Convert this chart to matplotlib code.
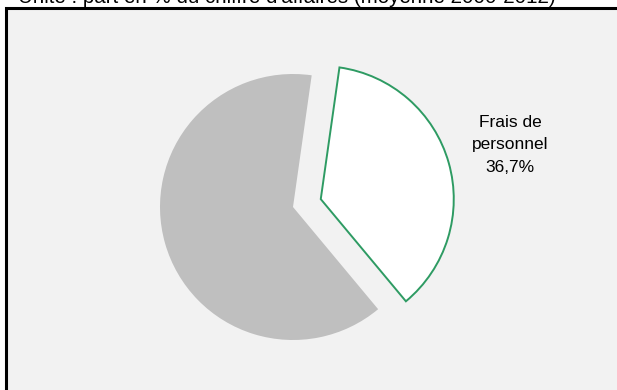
import matplotlib.pyplot as plt
from matplotlib.patches import Rectangle

plt.rcParams['font.family'] = ['Liberation Sans', 'DejaVu Sans']

# données
labels = ['Frais de\npersonnel', 'Autres']
parts = [36.7, 63.3]
couleurs = ['white', '#BFBFBF']
titre = "Unité : part en % du chiffre d'affaires (moyenne 2000-2012)"

W, H = 617, 390
fig = plt.figure(figsize=(W / 100, H / 100), dpi=100)
ax = fig.add_axes([0, 0, 1, 1])

# cadre gris
ax.add_patch(Rectangle((6, -20), 700, H - 8 + 20, facecolor='#F2F2F2',
                       edgecolor='black', linewidth=2.2, zorder=0))

# titre (coupé en haut de l'image, comme dans l'original)
ax.text(18, 387, titre, fontsize=14.8, ha='left', va='baseline', color='black')

# l'explode de pie est en unités de données, pas en fraction du rayon
rayon = 133
wedges, _ = ax.pie(parts, colors=couleurs, startangle=-50.2, counterclock=True,
                   explode=[0.217 * rayon, 0], center=(293, H - 207), radius=rayon,
                   wedgeprops=dict(linewidth=0), frame=True)
wedges[0].set_edgecolor('#2E9B63')
wedges[0].set_linewidth(1.4)
ax.set_xlim(0, W)
ax.set_ylim(0, H)
ax.set_aspect('equal')
ax.axis('off')

ax.text(510, H - 145, f"{labels[0]}\n{parts[0]:.1f}%".replace('.', ','),
        fontsize=12.5, ha='center', va='center', linespacing=1.6)

fig.savefig('out.png', dpi=100)
